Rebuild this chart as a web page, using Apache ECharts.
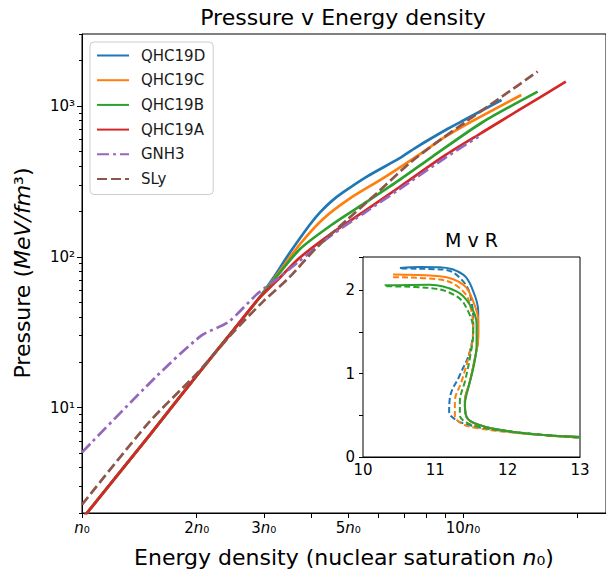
<!DOCTYPE html>
<html>
<head>
<meta charset="utf-8">
<script src="https://cdn.jsdelivr.net/npm/echarts@6.0.0/dist/echarts.min.js"></script>
<style>
  html, body { margin: 0; padding: 0; background: #fff; }
  #main { width: 606px; height: 571px; }
</style>
</head>
<body>
<div id="main"></div>
<script>
// pressure vs energy density, n in units of n0, p in MeV/fm^3
const qhc19dN = [1, 1.5, 2, 2.5, 2.9, 3.19, 3.46, 3.74, 3.97, 4.22, 4.52, 4.85, 5.58, 6.8, 7.52, 9.17, 10.13, 12.62]
const qhc19dP = [1.82, 6.5, 16.3, 32.8, 52.3, 73.4, 100.8, 133.7, 164.4, 197.5, 233.8, 268, 339, 449, 530, 711, 813, 1096]
const qhc19cN = [1, 1.5, 2, 2.5, 2.9, 3.2, 3.74, 4.3, 5.05, 6.16, 7.52, 8.99, 10.13, 14.22]
const qhc19cP = [1.82, 6.5, 16.3, 32.8, 52.3, 72, 122, 179, 244, 331, 460, 625, 748, 1183]
const qhc19bN = [1, 1.5, 2, 2.5, 2.9, 3.2, 3.74, 4.57, 5.58, 6.8, 8.3, 11.19, 15.7]
const qhc19bP = [1.82, 6.5, 16.3, 32.8, 52.3, 71, 113, 166, 231, 322, 460, 774, 1245]
const qhc19aN = [1, 1.5, 2, 2.5, 2.9, 3.25, 3.7, 4.5, 5.5, 6.8, 9, 11.19, 14, 18.61]
const qhc19aP = [1.82, 6.5, 16.3, 32.8, 52.3, 69.5, 97, 142, 200, 289, 473, 664, 937, 1450]
const gnh3N = [1, 1.56, 2.06, 2.42, 2.89, 3.26, 3.67, 4.5, 5.5, 6.8, 9, 10.97]
const gnh3P = [5.05, 15.9, 30.1, 36.9, 57, 71.7, 91, 138, 195, 280, 455, 625]
const slyN = [1, 1.5, 2, 2.5, 3, 3.5, 4.14, 4.95, 5.92, 7.3, 8.8, 10.13, 12.36, 15.7]
const slyP = [2.27, 8.0, 16.8, 31.8, 51, 73, 116, 175, 262, 425, 607, 780, 1108, 1690]

// inset: mass (solar masses) vs radius (km)
const dSolidR = [10.51, 10.8, 11.06, 11.385, 11.524, 11.593, 11.593, 11.547, 11.477, 11.408, 11.431, 11.616, 12.078, 12.539, 13.0]
const dSolidM = [2.269, 2.28, 2.277, 2.189, 1.988, 1.747, 1.466, 1.185, 0.904, 0.663, 0.482, 0.382, 0.301, 0.261, 0.241]
const dDashR = [10.531, 11.108, 11.385, 11.5, 11.524, 11.477, 11.339, 11.2, 11.191, 11.293, 11.477, 11.847, 12.539, 13.0]
const dDashM = [2.262, 2.249, 2.108, 1.867, 1.586, 1.265, 0.984, 0.703, 0.542, 0.442, 0.382, 0.321, 0.261, 0.233]
const cSolidR = [10.416, 11.062, 11.385, 11.524, 11.593, 11.593, 11.547, 11.477, 11.408, 11.431, 11.616, 12.078, 12.539, 13.0]
const cSolidM = [2.189, 2.169, 2.068, 1.867, 1.627, 1.426, 1.185, 0.904, 0.663, 0.482, 0.382, 0.301, 0.261, 0.241]
const cDashR = [10.416, 11.062, 11.385, 11.5, 11.524, 11.454, 11.362, 11.27, 11.27, 11.362, 11.57, 12.078, 13.0]
const cDashM = [2.157, 2.129, 1.988, 1.747, 1.506, 1.185, 0.904, 0.663, 0.502, 0.402, 0.349, 0.293, 0.229]
const bSolidR = [10.3, 10.923, 11.293, 11.477, 11.57, 11.57, 11.524, 11.454, 11.408, 11.431, 11.616, 12.078, 12.539, 13.0]
const bSolidM = [2.06, 2.068, 1.988, 1.827, 1.586, 1.345, 1.064, 0.823, 0.622, 0.482, 0.382, 0.301, 0.261, 0.241]
const bDashR = [10.323, 10.923, 11.293, 11.454, 11.524, 11.477, 11.408, 11.339, 11.339, 11.431, 11.616, 12.078, 13.0]
const bDashM = [2.048, 2.028, 1.928, 1.747, 1.506, 1.185, 0.904, 0.663, 0.502, 0.414, 0.361, 0.301, 0.233]

// ticks
const xTickN = [1, 2, 3, 5, 10]
const xTickLabels = ['{i|n}₀', '2{i|n}₀', '3{i|n}₀', '5{i|n}₀', '10{i|n}₀']
const xExtraTickN = [4, 6, 7, 8, 9, 20]
const yTickP = [10, 100, 1000]
const yTickLabels = ['10¹', '10²', '10³']
const yMinorP = [2, 3, 4, 5, 6, 7, 8, 9, 20, 30, 40, 50, 60, 70, 80, 90,
  200, 300, 400, 500, 600, 700, 800, 900, 2000, 3000]

const FONT = 'DejaVu Sans'
const C = {
  blue: '#1f77b4', orange: '#ff7f0e', green: '#2ca02c',
  red: '#d62728', purple: '#9467bd', brown: '#8c564b'
}

const lg = v => Math.log10(v)
const toLog = (ns, ps) => ns.map((n, i) => [lg(n), lg(ps[i])])
const pairs = (xs, ys) => xs.map((x, i) => [x, ys[i]])
const findLabel = (vals, labels, v) => {
  const k = vals.findIndex(t => Math.abs(lg(t) - v) < 1e-6)
  return k >= 0 ? labels[k] : ''
}

const mainLine = (name, ns, ps, color, type) => ({
  name: name,
  type: 'line',
  xAxisIndex: 0,
  yAxisIndex: 0,
  data: toLog(ns, ps),
  symbol: 'none',
  smooth: 0.25,
  lineStyle: { color: color, width: 2.7, type: type || 'solid' },
  itemStyle: { color: color },
  z: 3
})

const insetLine = (name, rs, ms, color, dashed) => ({
  name: name,
  type: 'line',
  xAxisIndex: 1,
  yAxisIndex: 2,
  data: pairs(rs, ms),
  symbol: 'none',
  smooth: 0.4,
  lineStyle: { color: color, width: 2, type: dashed ? [6, 3] : 'solid' },
  itemStyle: { color: color },
  z: 5
})

const myChart = echarts.init(document.getElementById('main'), null, { renderer: 'svg' })

const option = {
  animation: false,
  backgroundColor: '#fff',
  textStyle: { fontFamily: FONT },
  grid: [
    { left: 82, top: 34, right: -6, bottom: 58, show: true, borderColor: '#000', borderWidth: 1, backgroundColor: 'transparent' },
    { left: 363, top: 257, width: 217, height: 200, show: true, borderColor: '#000', borderWidth: 1, backgroundColor: '#fff', z: 4 }
  ],
  legend: {
    data: ['QHC19D', 'QHC19C', 'QHC19B', 'QHC19A', 'GNH3', 'SLy'],
    orient: 'vertical',
    left: 90,
    top: 42,
    itemWidth: 32,
    itemHeight: 14,
    itemGap: 9.7,
    padding: [6, 8, 8, 6],
    backgroundColor: '#fff',
    borderColor: '#ccc',
    borderWidth: 1,
    borderRadius: 4,
    itemStyle: { color: 'rgba(0,0,0,0)', borderColor: 'rgba(0,0,0,0)', borderWidth: 0 },
    textStyle: { fontFamily: FONT, fontSize: 15, color: '#1a1a1a', padding: [0, 0, 0, 7] }
  },
  xAxis: [
    {
      gridIndex: 0,
      type: 'value',
      min: 0,
      max: 1.3752,
      axisLine: { lineStyle: { color: '#000', width: 1 } },
      axisTick: { length: 5, lineStyle: { color: '#000' }, customValues: xTickN.concat(xExtraTickN).map(lg) },
      axisLabel: {
        customValues: xTickN.map(lg),
        formatter: v => findLabel(xTickN, xTickLabels, v),
        color: '#000',
        fontFamily: FONT,
        fontSize: 15,
        margin: 7,
        rich: { i: { fontStyle: 'italic', fontFamily: FONT, fontSize: 15, color: '#000' } }
      },
      splitLine: { show: false }
    },
    {
      gridIndex: 1,
      type: 'value',
      min: 10,
      max: 13,
      interval: 1,
      axisLine: { lineStyle: { color: '#000', width: 1 } },
      axisTick: { show: false },
      axisLabel: { color: '#000', fontFamily: FONT, fontSize: 15, margin: 5 },
      splitLine: { show: false }
    }
  ],
  yAxis: [
    {
      gridIndex: 0,
      type: 'value',
      position: 'left',
      min: lg(2),
      max: lg(3000),
      axisLine: { show: true, lineStyle: { color: '#000', width: 1 } },
      axisTick: { length: 5, lineStyle: { color: '#000' }, customValues: yTickP.map(lg) },
      axisLabel: {
        customValues: yTickP.map(lg),
        formatter: v => findLabel(yTickP, yTickLabels, v),
        color: '#000',
        fontFamily: FONT,
        fontSize: 15,
        margin: 7
      },
      splitLine: { show: false }
    },
    {
      gridIndex: 0,
      type: 'value',
      position: 'left',
      min: lg(2),
      max: lg(3000),
      axisLine: { show: false },
      axisTick: { length: 3, lineStyle: { color: '#000' }, customValues: yMinorP.map(lg) },
      axisLabel: { show: false },
      splitLine: { show: false }
    },
    {
      gridIndex: 1,
      type: 'value',
      min: 0,
      max: 2.4,
      interval: 0.5,
      axisLine: { show: true, lineStyle: { color: '#000', width: 1 } },
      axisTick: { show: true, length: 4, lineStyle: { color: '#000' } },
      axisLabel: {
        formatter: v => (v % 1 === 0 ? String(v) : ''),
        color: '#000',
        fontFamily: FONT,
        fontSize: 15,
        margin: 8
      },
      splitLine: { show: false }
    }
  ],
  graphic: [
    { type: 'text', x: 343, y: 17, style: { text: 'Pressure v Energy density', font: '22px "DejaVu Sans"', fill: '#000', textAlign: 'center', textVerticalAlign: 'middle' } },
    { type: 'text', x: 344, y: 557, style: { text: 'Energy density (nuclear saturation {i|n}₀)', font: '22px "DejaVu Sans"', fill: '#000', textAlign: 'center', textVerticalAlign: 'middle', rich: { i: { fontStyle: 'italic', fontSize: 22, fontFamily: FONT } } } },
    { type: 'text', x: 22, y: 273, rotation: Math.PI / 2, style: { text: 'Pressure ({i|MeV/fm}³)', font: '22px "DejaVu Sans"', fill: '#000', textAlign: 'center', textVerticalAlign: 'middle', rich: { i: { fontStyle: 'italic', fontSize: 22, fontFamily: FONT } } } },
    { type: 'text', x: 471.5, y: 240, z: 10, style: { text: 'M v R', font: '19px "DejaVu Sans"', fill: '#000', textAlign: 'center', textVerticalAlign: 'middle' } }
  ],
  series: [
    mainLine('QHC19D', qhc19dN, qhc19dP, C.blue),
    mainLine('QHC19C', qhc19cN, qhc19cP, C.orange),
    mainLine('QHC19B', qhc19bN, qhc19bP, C.green),
    mainLine('QHC19A', qhc19aN, qhc19aP, C.red),
    mainLine('GNH3', gnh3N, gnh3P, C.purple, [12, 4, 3, 4]),
    mainLine('SLy', slyN, slyP, C.brown, [10, 4]),
    insetLine('D M-R', dSolidR, dSolidM, C.blue, false),
    insetLine('D M-R dashed', dDashR, dDashM, C.blue, true),
    insetLine('C M-R', cSolidR, cSolidM, C.orange, false),
    insetLine('C M-R dashed', cDashR, cDashM, C.orange, true),
    insetLine('B M-R', bSolidR, bSolidM, C.green, false),
    insetLine('B M-R dashed', bDashR, bDashM, C.green, true)
  ]
}

myChart.setOption(option)
</script>
</body>
</html>
